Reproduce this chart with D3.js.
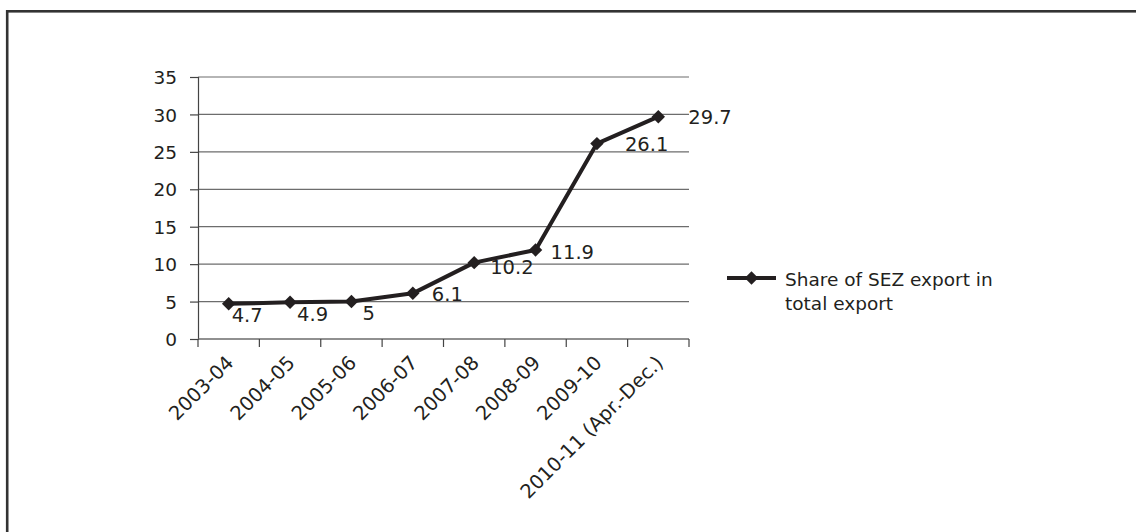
<!DOCTYPE html>
<html>
<head>
<meta charset="utf-8">
<script src="https://cdn.jsdelivr.net/npm/d3@7"></script>
<style>
  html, body { margin: 0; padding: 0; background: #fff; }
  svg { display: block; }
  text { font-family: "DejaVu Sans", sans-serif; fill: #231f20; }
</style>
</head>
<body>
<svg id="chart" width="1136" height="532"></svg>
<script>
// Share of SEZ exports in India's total exports (%)
const years = ["2003-04", "2004-05", "2005-06", "2006-07", "2007-08", "2008-09", "2009-10", "2010-11 (Apr.-Dec.)"];
const shareValues = [4.7, 4.9, 5, 6.1, 10.2, 11.9, 26.1, 29.7];
const yTicks = [0, 5, 10, 15, 20, 25, 30, 35];
const seriesName = ["Share of SEZ export in", "total export"];

// hand-placed data label offsets (dx, dy) from each marker
const labelNudge = [[3, 18], [7, 19], [11, 18], [19, 8], [16, 11], [15, 9], [28, 7], [30, 7]];

const svg = d3.select("#chart");
const ink = "#231f20";

// outer frame (runs off the right and bottom edges)
svg.append("rect")
  .attr("x", 7.2).attr("y", 11.3)
  .attr("width", 1200).attr("height", 600)
  .attr("fill", "none").attr("stroke", "#333").attr("stroke-width", 2.6);

const plot = { left: 198, right: 689, top: 77, bottom: 339 };

const x = d3.scaleBand().domain(years).range([plot.left, plot.right]).padding(0);
const y = d3.scaleLinear().domain([0, 35]).range([plot.bottom, plot.top]);

// horizontal gridlines
svg.append("g")
  .selectAll("line")
  .data(yTicks)
  .join("line")
  .attr("x1", plot.left).attr("x2", plot.right)
  .attr("y1", d => y(d)).attr("y2", d => y(d))
  .attr("stroke", "#6d6d6d").attr("stroke-width", 1.2);

// y axis
const yAxis = svg.append("g")
  .attr("transform", `translate(${plot.left},0)`)
  .call(d3.axisLeft(y).tickValues(yTicks).tickSize(8).tickPadding(13).tickFormat(d3.format("d")));
yAxis.select(".domain").attr("stroke", "#444").attr("stroke-width", 1.2);
yAxis.selectAll(".tick line").attr("stroke", "#444").attr("stroke-width", 1.2);
yAxis.selectAll(".tick text")
  .attr("font-family", "DejaVu Sans, sans-serif")
  .attr("font-size", 18.5).attr("fill", ink).attr("dy", "0.36em");

// x axis: ticks sit on category boundaries
const bounds = years.map(d => x(d) + x.bandwidth());
const xAxisG = svg.append("g").attr("transform", `translate(0,${plot.bottom})`);
xAxisG.append("line")
  .attr("x1", plot.left).attr("x2", plot.right)
  .attr("stroke", "#6d6d6d").attr("stroke-width", 1.2);
xAxisG.selectAll("line.tk")
  .data([plot.left, ...bounds])
  .join("line").attr("class", "tk")
  .attr("x1", d => d).attr("x2", d => d)
  .attr("y1", 0).attr("y2", 8)
  .attr("stroke", "#444").attr("stroke-width", 1.2);
xAxisG.selectAll("text")
  .data(years)
  .join("text")
  .attr("transform", d => `translate(${x(d) + x.bandwidth() / 2 + 6},${25}) rotate(-45)`)
  .attr("text-anchor", "end")
  .attr("font-size", 19.5)
  .text(d => d);

// series line
const cx = (d, i) => x(years[i]) + x.bandwidth() / 2;
const line = d3.line().x(cx).y(d => y(d));
svg.append("path")
  .datum(shareValues)
  .attr("d", line)
  .attr("fill", "none").attr("stroke", ink)
  .attr("stroke-width", 4).attr("stroke-linejoin", "round");

// diamond markers
const diamond = d3.symbol().type(d3.symbolDiamond2).size(115);
svg.append("g")
  .selectAll("path")
  .data(shareValues)
  .join("path")
  .attr("d", diamond)
  .attr("transform", (d, i) => `translate(${cx(d, i)},${y(d)})`)
  .attr("fill", ink);

// data labels
svg.append("g")
  .selectAll("text")
  .data(shareValues)
  .join("text")
  .attr("x", (d, i) => cx(d, i) + labelNudge[i][0])
  .attr("y", (d, i) => y(d) + labelNudge[i][1])
  .attr("font-size", 19.5)
  .text(d => d);

// legend
const lg = svg.append("g").attr("transform", "translate(727,278)");
lg.append("line").attr("x1", 0).attr("x2", 49).attr("y1", 0).attr("y2", 0)
  .attr("stroke", ink).attr("stroke-width", 4);
lg.append("path").attr("d", diamond)
  .attr("transform", "translate(24.5,0)").attr("fill", ink);
lg.selectAll("text.lt")
  .data(seriesName)
  .join("text").attr("class", "lt")
  .attr("x", 58).attr("y", (d, i) => 7.5 + i * 24.5)
  .attr("font-size", 18.5)
  .text(d => d);
</script>
</body>
</html>
